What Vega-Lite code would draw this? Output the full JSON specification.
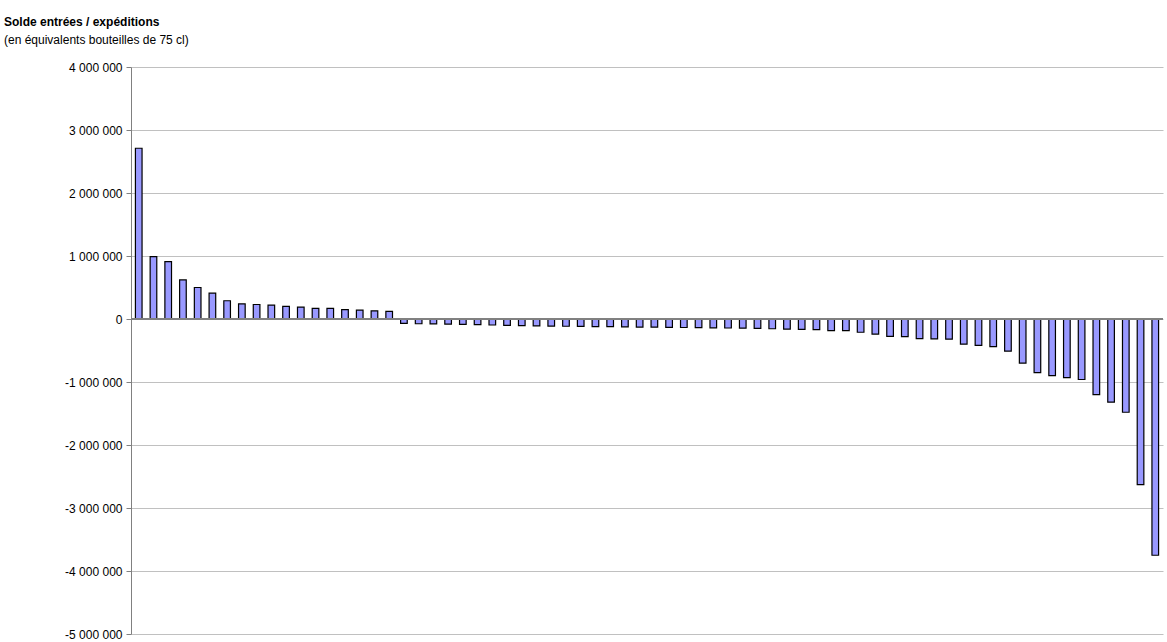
{
"$schema":"https://vega.github.io/schema/vega-lite/v6.json",
"width":1032,"height":567,
"autosize":{"type":"none"},
"padding":{"left":131,"top":67,"right":4,"bottom":8},
"title":{"text":"Solde entrées / expéditions","subtitle":"(en équivalents bouteilles de 75 cl)","anchor":"start","frame":"group","dx":-127,"offset":14,"font":"Liberation Sans","fontSize":12,"fontWeight":"bold","subtitleFont":"Liberation Sans","subtitleFontSize":12,"subtitlePadding":6,"color":"#000","subtitleColor":"#000"},
"config":{"view":{"stroke":null},"font":"Liberation Sans"},
"data":{"values":[
{"i":1,"v":2710000},{"i":2,"v":990000},{"i":3,"v":910000},{"i":4,"v":620000},{"i":5,"v":500000},{"i":6,"v":410000},{"i":7,"v":290000},{"i":8,"v":240000},{"i":9,"v":230000},{"i":10,"v":220000},{"i":11,"v":200000},{"i":12,"v":190000},{"i":13,"v":170000},{"i":14,"v":170000},{"i":15,"v":150000},{"i":16,"v":140000},{"i":17,"v":130000},{"i":18,"v":120000},
{"i":19,"v":-70000},{"i":20,"v":-75000},{"i":21,"v":-78000},{"i":22,"v":-80000},{"i":23,"v":-85000},{"i":24,"v":-90000},{"i":25,"v":-95000},{"i":26,"v":-100000},{"i":27,"v":-105000},{"i":28,"v":-110000},{"i":29,"v":-112000},{"i":30,"v":-115000},{"i":31,"v":-118000},{"i":32,"v":-120000},{"i":33,"v":-122000},{"i":34,"v":-125000},{"i":35,"v":-128000},{"i":36,"v":-130000},{"i":37,"v":-132000},{"i":38,"v":-135000},{"i":39,"v":-138000},{"i":40,"v":-140000},{"i":41,"v":-143000},{"i":42,"v":-146000},{"i":43,"v":-150000},{"i":44,"v":-155000},{"i":45,"v":-160000},{"i":46,"v":-165000},{"i":47,"v":-170000},
{"i":48,"v":-185000},{"i":49,"v":-185000},{"i":50,"v":-210000},{"i":51,"v":-240000},{"i":52,"v":-275000},{"i":53,"v":-280000},{"i":54,"v":-310000},{"i":55,"v":-315000},{"i":56,"v":-320000},{"i":57,"v":-400000},{"i":58,"v":-420000},{"i":59,"v":-440000},{"i":60,"v":-510000},{"i":61,"v":-700000},{"i":62,"v":-850000},{"i":63,"v":-900000},{"i":64,"v":-930000},{"i":65,"v":-960000},{"i":66,"v":-1200000},{"i":67,"v":-1320000},{"i":68,"v":-1480000},{"i":69,"v":-2630000},{"i":70,"v":-3750000}
]},
"layer":[
{"mark":{"type":"bar","color":"#9999ff","stroke":"#000","strokeWidth":1.2},
"encoding":{
"x":{"field":"i","type":"ordinal","axis":null,"scale":{"paddingInner":0.55,"paddingOuter":0.3}},
"y":{"field":"v","type":"quantitative","scale":{"domain":[-5000000,4000000],"nice":false},
"axis":{"title":null,"values":[-5000000,-4000000,-3000000,-2000000,-1000000,0,1000000,2000000,3000000,4000000],"labelExpr":"replace(replace(format(datum.value, ','), /,/g, ' '), '−', '-')","labelFont":"Liberation Sans","labelFontSize":12,"labelColor":"#000","labelPadding":4,"gridColor":"#c0c0c0","domainColor":"#808080","tickColor":"#808080","tickSize":5}}}},
{"mark":{"type":"rule","color":"#808080","strokeWidth":2},"data":{"values":[{"z":0}]},"encoding":{"y":{"field":"z","type":"quantitative"}}}
]
}
